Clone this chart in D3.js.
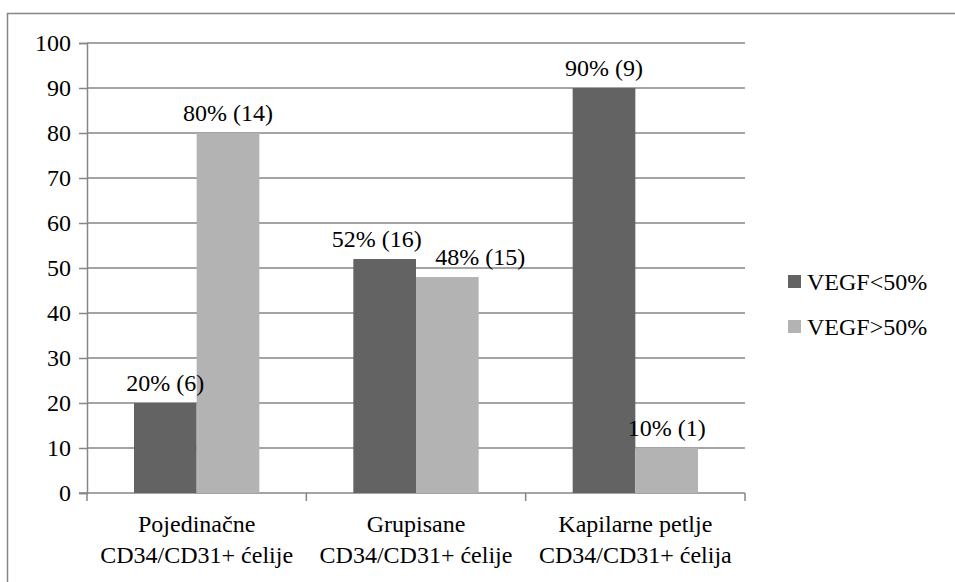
<!DOCTYPE html>
<html>
<head>
<meta charset="utf-8">
<script src="https://cdn.jsdelivr.net/npm/d3@7"></script>
</head>
<body style="margin:0">
<script>
// data
const categories = [
  ["Pojedinačne", "CD34/CD31+ ćelije"],
  ["Grupisane", "CD34/CD31+ ćelije"],
  ["Kapilarne petlje", "CD34/CD31+ ćelija"]
];
const seriesNames = ["VEGF<50%", "VEGF>50%"];
const lowValues = [20, 52, 90];
const highValues = [80, 48, 10];
const lowLabels = ["20% (6)", "52% (16)", "90% (9)"];
const highLabels = ["80% (14)", "48% (15)", "10% (1)"];
const yTicks = [0, 10, 20, 30, 40, 50, 60, 70, 80, 90, 100];

const colours = ["#636363", "#b3b3b3"];
const fontFamily = '"Times New Roman"';
const fontSize = 24;

const svg = d3.select("body").append("svg")
  .attr("width", 955)
  .attr("height", 582);

// outer chart border
svg.append("rect")
  .attr("x", 7.5).attr("y", 13.5)
  .attr("width", 960).attr("height", 600)
  .attr("fill", "none")
  .attr("stroke", "#868686")
  .attr("stroke-width", 1.5);

const plot = {left: 87, top: 43, right: 745, bottom: 493};

const x0 = d3.scaleBand()
  .domain(d3.range(categories.length))
  .range([plot.left, plot.right]);

const x1 = d3.scaleBand()
  .domain(d3.range(seriesNames.length))
  .range([0, x0.bandwidth()])
  .paddingOuter(0.75);

const y = d3.scaleLinear().domain([0, 100]).range([plot.bottom, plot.top]);

// gridlines
svg.append("g").selectAll("line")
  .data(yTicks.filter(d => d > 0))
  .enter().append("line")
    .attr("x1", plot.left).attr("x2", plot.right)
    .attr("y1", d => y(d)).attr("y2", d => y(d))
    .attr("stroke", "#868686").attr("stroke-width", 1.5);

// y axis (lines only, labels drawn below)
const yAxis = d3.axisLeft(y).tickValues(yTicks).tickSize(8).tickFormat("");
const yg = svg.append("g")
  .attr("transform", `translate(${plot.left},0)`)
  .call(yAxis);
yg.select(".domain").attr("stroke", "#868686").attr("stroke-width", 1.5);
yg.selectAll(".tick line").attr("stroke", "#868686").attr("stroke-width", 1.5);
yg.selectAll(".tick text").remove();

const allTexts = [];
yTicks.forEach(t => allTexts.push({text: String(t), x: plot.left - 16, y: y(t) + 8, anchor: "end"}));

// x axis line + ticks
const xg = svg.append("g");
xg.append("line")
  .attr("x1", plot.left - 8).attr("x2", plot.right)
  .attr("y1", y(0)).attr("y2", y(0))
  .attr("stroke", "#868686").attr("stroke-width", 1.5);
xg.selectAll(".xtick")
  .data(d3.range(categories.length + 1))
  .enter().append("line")
    .attr("x1", d => plot.left + d * x0.bandwidth())
    .attr("x2", d => plot.left + d * x0.bandwidth())
    .attr("y1", y(0)).attr("y2", y(0) + 8)
    .attr("stroke", "#868686").attr("stroke-width", 1.5);

// category labels, two lines each
categories.forEach((lines, i) => {
  lines.forEach((line, j) => {
    allTexts.push({text: line, x: x0(i) + x0.bandwidth() / 2, y: 532 + j * 31, anchor: "middle"});
  });
});

// bars
const series = [
  {values: lowValues, labels: lowLabels},
  {values: highValues, labels: highLabels}
];
series.forEach((s, si) => {
  svg.append("g").selectAll("rect")
    .data(s.values)
    .enter().append("rect")
      .attr("x", (d, i) => x0(i) + x1(si))
      .attr("y", d => y(d))
      .attr("width", x1.bandwidth())
      .attr("height", d => y(0) - y(d))
      .attr("fill", colours[si]);
  s.values.forEach((d, i) => {
    allTexts.push({
      text: s.labels[i],
      x: x0(i) + x1(si) + x1.bandwidth() / 2 + (i === 1 ? (si === 0 ? -8 : 33) : 0),
      y: y(d) - 12,
      anchor: "middle"
    });
  });
});

// legend
seriesNames.forEach((name, i) => {
  svg.append("rect")
    .attr("x", 788).attr("y", 275 + i * 45)
    .attr("width", 13).attr("height", 13)
    .attr("fill", colours[i]);
  allTexts.push({text: name, x: 807, y: 290 + i * 45, anchor: "start"});
});

// all texts, appended straight to the svg
svg.selectAll("text.lbl")
  .data(allTexts)
  .enter().append("text")
    .attr("class", "lbl")
    .attr("x", d => d.x)
    .attr("y", d => d.y)
    .attr("text-anchor", d => d.anchor)
    .attr("font-size", fontSize)
    .style("font-family", d => fontFamily)
    .text(d => d.text);
</script>
</body>
</html>
